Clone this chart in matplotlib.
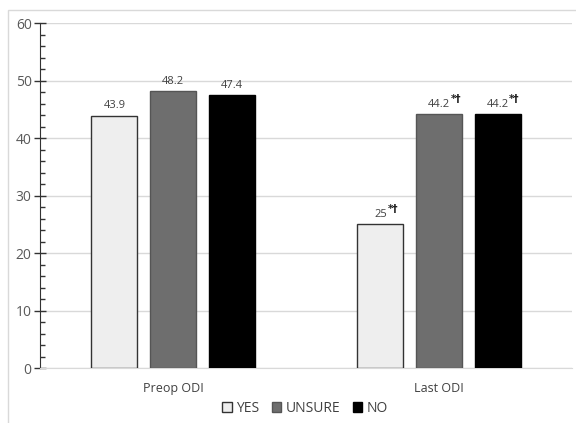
import matplotlib.pyplot as plt
import matplotlib.patches as mpatches
from matplotlib.ticker import MultipleLocator
import numpy as np

categories = ["Preop ODI", "Last ODI"]
series_names = ["YES", "UNSURE", "NO"]
yes_vals = [43.9, 25]
unsure_vals = [48.2, 44.2]
no_vals = [47.4, 44.2]
marks = [["", "", ""], ["*\u2020", "*\u2020", "*\u2020"]]

colors = ["#eeeeee", "#6e6e6e", "#000000"]
edges = ["#333333", "#555555", "#000000"]

plt.rcParams['font.family'] = ['Open Sans', 'DejaVu Sans']

fig = plt.figure(figsize=(5.76, 4.23), dpi=100)
# light frame around the chart area
fig.patches.append(mpatches.Rectangle((8 / 576, -0.1), 1.2, 1 - 10 / 423 + 0.1,
                                      transform=fig.transFigure, fill=False,
                                      edgecolor="#d9d9d9", linewidth=1.0))
ax = fig.add_axes([40 / 576, 55 / 423, 532 / 576, 345 / 423])

x = np.arange(len(categories))
width = 0.173
offset = 0.22
all_vals = [yes_vals, unsure_vals, no_vals]

for i, vals in enumerate(all_vals):
    pos = x + (i - 1) * offset
    ax.bar(pos, vals, width, color=colors[i], edgecolor=edges[i], linewidth=1.0,
           label=series_names[i], zorder=3)
    for j, v in enumerate(vals):
        txt = ax.annotate(f"{v:g}", (pos[j], v), xytext=(0, 3), textcoords="offset points",
                          ha="center", va="bottom", fontsize=8, color="#404040")
        if marks[j][i]:
            # superscript marks placed just after the number
            ax.annotate(marks[j][i], xy=(1, 0.55), xycoords=txt, xytext=(0.5, 0),
                        textcoords="offset points", ha="left", va="bottom",
                        fontsize=7.5, fontweight="bold", color="#222222",
                        family=['DejaVu Sans'])

ax.set_xlim(-0.5, 1.5)
ax.set_ylim(0, 60)
ax.yaxis.set_major_locator(MultipleLocator(10))
ax.yaxis.set_minor_locator(MultipleLocator(2))
ax.grid(axis="y", color="#d9d9d9", linewidth=1.0, zorder=0)
ax.set_axisbelow(True)
ax.set_xticks(x)
ax.set_xticklabels(categories)
ax.tick_params(axis="x", length=0, pad=10, labelsize=9, labelcolor="#404040")
ax.tick_params(axis="y", which="major", direction="inout", length=8, width=1.0,
               color="#333333", labelsize=10, labelcolor="#595959", pad=2)
ax.tick_params(axis="y", which="minor", direction="in", length=3.5, width=1.0,
               color="#333333")
for s in ["top", "right"]:
    ax.spines[s].set_visible(False)
ax.spines["bottom"].set_color("#d9d9d9")
ax.spines["left"].set_color("#333333")

handles = [mpatches.Patch(facecolor=colors[i], edgecolor=edges[i], label=series_names[i])
           for i in range(3)]
fig.legend(handles=handles, loc="center", bbox_to_anchor=(305 / 576, 1 - 408 / 423),
           ncol=3, frameon=False, fontsize=10, handlelength=0.7, handleheight=0.7,
           handletextpad=0.3, columnspacing=0.9, labelcolor="#404040")

fig.savefig("out.png", dpi=100)
